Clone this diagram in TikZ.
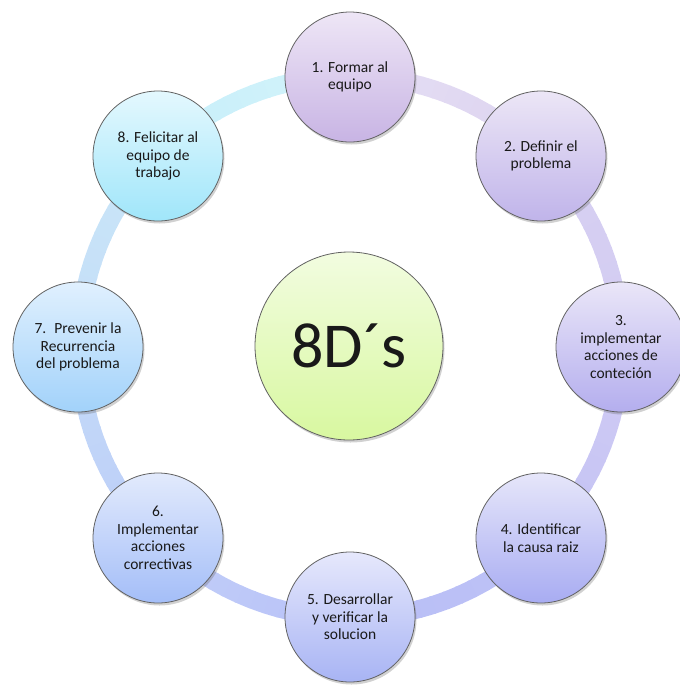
\documentclass[tikz,border=0pt]{standalone}
\usepackage{fontspec}
\setmainfont{Carlito}
\usetikzlibrary{shadows,calc}
\definecolor{sAa}{HTML}{E6DEF4}\definecolor{sAb}{HTML}{DCD4F0}
\definecolor{sBa}{HTML}{D8D0F2}\definecolor{sBb}{HTML}{D2CCF2}
\definecolor{sCa}{HTML}{D0CCF4}\definecolor{sCb}{HTML}{C4C2F4}
\definecolor{sDa}{HTML}{BEC2F6}\definecolor{sDb}{HTML}{B8BEF6}
\definecolor{sEa}{HTML}{B8C2F8}\definecolor{sEb}{HTML}{C2CEF8}
\definecolor{sFa}{HTML}{BCCCF8}\definecolor{sFb}{HTML}{C4DCF8}
\definecolor{sGa}{HTML}{C4DEF8}\definecolor{sGb}{HTML}{CAE6F8}
\definecolor{sHa}{HTML}{C8EEFA}\definecolor{sHb}{HTML}{D2F4FA}
\definecolor{n1t}{HTML}{EEE6F6}\definecolor{n1b}{HTML}{C8B4E4}
\definecolor{n2t}{HTML}{ECE6F6}\definecolor{n2b}{HTML}{C0B4EA}
\definecolor{n3t}{HTML}{EAE6F8}\definecolor{n3b}{HTML}{B4AEEE}
\definecolor{n4t}{HTML}{E6E6FA}\definecolor{n4b}{HTML}{A8ACF2}
\definecolor{n5t}{HTML}{E6E8FC}\definecolor{n5b}{HTML}{A8B4F4}
\definecolor{n6t}{HTML}{E2EAFC}\definecolor{n6b}{HTML}{A4BEF8}
\definecolor{n7t}{HTML}{E0F0FE}\definecolor{n7b}{HTML}{A2D2FA}
\definecolor{n8t}{HTML}{E4F8FE}\definecolor{n8b}{HTML}{A0E6FA}
\definecolor{nct}{HTML}{F2FCE0}\definecolor{ncb}{HTML}{D8F8A0}
\tikzset{
  stepnode/.style={circle, draw=black!62, line width=0.8pt, minimum size=130pt,
    inner sep=0pt, align=center, text=black!90,
    font=\fontsize{15.5}{17.5}\selectfont,
    drop shadow={shadow xshift=1.5pt, shadow yshift=-2.5pt, opacity=0.3, fill=black!60}},
  hubnode/.style={stepnode, minimum size=188pt, font=\fontsize{64}{70}\selectfont}
}
\begin{document}
\begin{tikzpicture}[x=1pt,y=-1pt]
\useasboundingbox (0,0) rectangle (680,689);
\coordinate (C) at (350,347);
% ring
\foreach \k/\ca/\cb in {1/sAa/sAb,2/sBa/sBb,3/sCa/sCb,4/sDa/sDb,5/sEa/sEb,6/sFa/sFb,7/sGa/sGb,8/sHa/sHb}{
  \foreach \i in {0,...,14}{
    \pgfmathsetmacro\a{-90+45*(\k-1)+3*\i}
    \pgfmathsetmacro\p{100*\i/14}
    \colorlet{tmpc}{\cb!\p!\ca}
    \draw[line width=18pt, tmpc] (C) ++(\a:271) arc[start angle=\a, end angle=\a+3.4, radius=271];
  }
}
\node[stepnode, top color=n1t, bottom color=n1b] (s1) at (350,77) {1. Formar al\\equipo};
\node[stepnode, top color=n2t, bottom color=n2b] (s2) at (541,156) {2. Definir el\\problema};
\node[stepnode, top color=n3t, bottom color=n3b] (s3) at (621,347) {3.\\implementar\\acciones de\\conteción};
\node[stepnode, top color=n4t, bottom color=n4b] (s4) at (541,538) {4. Identificar\\la causa raiz};
\node[stepnode, top color=n5t, bottom color=n5b] (s5) at (350,617) {5. Desarrollar\\y verificar la\\solucion};
\node[stepnode, top color=n6t, bottom color=n6b] (s6) at (158,538) {6.\\Implementar\\acciones\\correctivas};
\node[stepnode, top color=n7t, bottom color=n7b] (s7) at (78,347) {7.~ Prevenir la\\Recurrencia\\del problema};
\node[stepnode, top color=n8t, bottom color=n8b] (s8) at (158,156) {8. Felicitar al\\equipo de\\trabajo};
\node[hubnode, top color=nct, bottom color=ncb] (hub) at (349,346) {8D´s};
\end{tikzpicture}
\end{document}
